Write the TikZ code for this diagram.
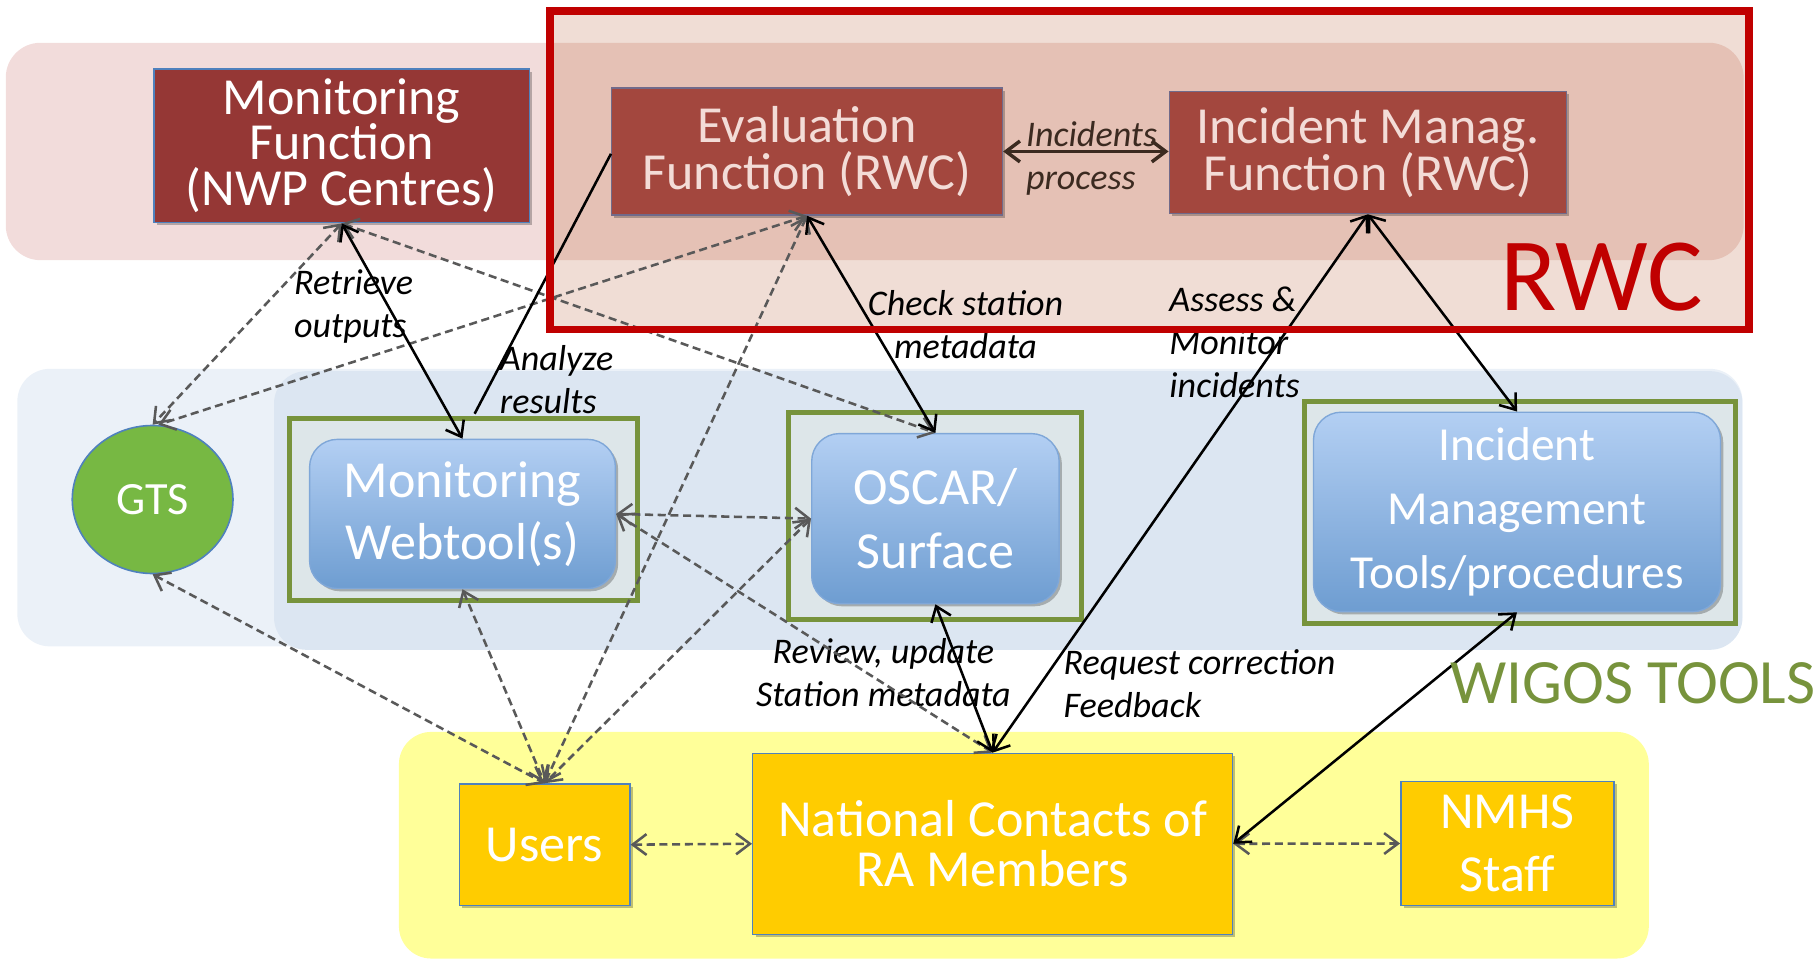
\documentclass[tikz,border=0pt]{standalone}
\usepackage{fontspec}
\setmainfont{Carlito}
\usetikzlibrary{arrows.meta,shadows,calc,shapes.geometric}
\definecolor{pinkband}{HTML}{F2DCDB}
\definecolor{rwcpale}{HTML}{F0DDD5}
\definecolor{rwcover}{HTML}{E5C1B5}
\definecolor{blueouter}{HTML}{EBF1F8}
\definecolor{blueinner}{HTML}{DCE6F2}
\definecolor{yellowband}{HTML}{FFFF99}
\definecolor{contfill}{HTML}{DDE6E9}
\definecolor{olive}{HTML}{77933C}
\definecolor{tooltop}{HTML}{B3CFF3}
\definecolor{toolbot}{HTML}{6E9DD1}
\definecolor{toolborder}{HTML}{7FA7D8}
\definecolor{gtsgreen}{HTML}{77B843}
\definecolor{gold}{HTML}{FFCC00}
\definecolor{mffill}{HTML}{953735}
\definecolor{rwcfill}{HTML}{A3473E}
\definecolor{rwctext}{HTML}{F3DCD7}
\definecolor{dgray}{HTML}{595959}
\definecolor{rwcred}{HTML}{C00000}
\definecolor{boxblue}{HTML}{4F81BD}
\definecolor{labbrown}{HTML}{3B2A20}
\begin{document}
\lineskiplimit=-100pt
\lineskip=0pt
\begin{tikzpicture}[x=0.5pt,y=-0.5pt,
  >={Straight Barb[length=6pt,width=9pt]},
  bigfont/.style={font=\fontsize{22.5pt}{#1}\selectfont},
  shad/.style={drop shadow={shadow xshift=1.2pt,shadow yshift=-1.2pt,opacity=0.25,fill=black}},
  mfbox/.style={draw=boxblue,line width=0.7pt,fill=mffill,text=white,inner sep=0pt,align=center,shad},
  rwcbox/.style={draw=boxblue!60!rwcfill,line width=0.6pt,fill=rwcfill,text=rwctext,inner sep=0pt,align=center,shad},
  cont/.style={draw=olive,line width=2.2pt,fill=contfill,inner sep=0pt},
  tool/.style={draw=toolborder,line width=0.6pt,rounded corners=12pt,top color=tooltop,bottom color=toolbot,text=white,inner sep=0pt,align=center,shad},
  goldbox/.style={draw=boxblue,line width=0.6pt,fill=gold,text=white,inner sep=0pt,align=center,shad},
  lab/.style={font=\fontsize{15.6pt}{18.5pt}\selectfont\itshape,inner sep=0pt},
  sol/.style={draw=black,line width=1.1pt,<->},
  dsh/.style={draw=dgray,line width=1.1pt,dash pattern=on 3.5pt off 2pt,<->}
]
\useasboundingbox (0,0) rectangle (1568,829);
% background bands
\fill[pinkband,rounded corners=15pt] (5,37) rectangle (1508,225);
\fill[blueouter,rounded corners=14pt] (15,319) rectangle (1507,559);
\fill[blueinner,rounded corners=14pt] (237,321) rectangle (1507,562);
\fill[yellowband,rounded corners=14pt] (345,633) rectangle (1426,829);
% RWC area
\fill[rwcpale] (476,9.7) rectangle (1512.5,285);
\begin{scope}
  \clip (476,9.7) rectangle (1512.5,285);
  \fill[rwcover,rounded corners=15pt] (5,37) rectangle (1508,225);
\end{scope}
% nodes
\node[mfbox,bigfont=19.5pt,minimum width=162.5pt,minimum height=66.5pt] (mf) at (295.5,126) {Monitoring\\Function\\(NWP Centres)};
\node[rwcbox,bigfont=20.5pt,minimum width=169pt,minimum height=55pt] (ev) at (698,131) {Evaluation\\Function (RWC)};
\node[rwcbox,bigfont=20.5pt,minimum width=171.75pt,minimum height=52.75pt] (im) at (1183,132) {Incident Manag.\\Function (RWC)};
\node[ellipse,draw=boxblue,line width=0.7pt,fill=gtsgreen,text=white,inner sep=0pt,minimum width=69.5pt,minimum height=64pt,font=\fontsize{20pt}{24pt}\selectfont] (gts) at (132,432) {GTS};
\node[cont,minimum width=150.5pt,minimum height=78.5pt] (wt) at (400.5,440.5) {};
\node[tool,bigfont=27pt,minimum width=132.25pt,minimum height=64.5pt] (wti) at (400,444.5) {Monitoring\\Webtool(s)};
\node[cont,minimum width=126.5pt,minimum height=89.5pt] (os) at (808.5,446.5) {};
\node[tool,bigfont=28pt,minimum width=107pt,minimum height=73.5pt] (osi) at (809,448.5) {OSCAR/\\Surface};
\node[cont,minimum width=186.5pt,minimum height=96pt] (imt) at (1314.5,443.5) {};
\node[tool,font=\fontsize{20.5pt}{27.5pt}\selectfont,minimum width=176pt,minimum height=86.25pt] (imti) at (1312,442.75) {Incident\\Management\\Tools/procedures};
\node[goldbox,bigfont=27pt,minimum width=73.75pt,minimum height=52.5pt] (us) at (471,730.5) {Users};
\node[goldbox,bigfont=21.5pt,minimum width=207.5pt,minimum height=78.25pt] (nc) at (858.5,729.75) {National Contacts of\\RA Members};
\node[goldbox,bigfont=27pt,minimum width=92.25pt,minimum height=53.5pt] (nm) at (1303.75,729.5) {NMHS\\Staff};
% labels
\node[lab,align=left,anchor=west] (lret) at (254,265) {Retrieve\\outputs};
\node[lab,align=left,anchor=west] (lana) at (432,328) {Analyze\\results};
\node[lab,align=center] (lchk) at (835,281) {Check station\\metadata};
\node[lab,align=left,anchor=west] (lass) at (1011,296) {Assess \&\\Monitor\\incidents};
\node[lab,align=left,anchor=west,text=labbrown] (linc) at (887,137) {Incidents\\process};
\node[lab,align=center] (lrev) at (764,581.5) {Review, update\\Station metadata};
\node[lab,align=left,anchor=west] (lreq) at (919.5,591.5) {Request correction\\Feedback};
% dashed connectors
\draw[dsh] (mf.south) -- (gts.north);
\draw[dsh] (ev.south) -- ($(gts.north)+(5,0)$);
\draw[dsh] (mf.south) -- (osi.north);
\draw[dsh] (ev.south) -- (us.north);
\draw[dsh] (wti.south) -- (us.north);
\draw[dsh] (gts.south) -- (us.north);
\draw[dsh] (osi.west) -- (us.north);
\draw[dsh] (wti.east) -- (osi.west);
\draw[dsh] (wti.east) -- (nc.north);
\draw[dsh] (us.east) -- (nc.west);
\draw[dsh] (nc.east) -- (nm.west);
% solid connectors
\draw[sol] (mf.south) -- (wti.north);
\draw[draw=black,line width=1.1pt] ($(ev.west)+(0,2)$) -- ($(wt.north)+(10,-2)$);
\draw[sol] (ev.south) -- (osi.north);
\draw[sol] (im.south) -- (nc.north);
\draw[sol] (im.south) -- (imti.north);
\draw[sol] (osi.south) -- (nc.north);
\draw[sol] (imti.south) -- (nc.east);
\draw[draw=labbrown,line width=1.5pt,<->] (ev.east) -- (ev.east -| im.west);
% RWC frame and titles
\node[draw=rwcred,line width=3.4pt,inner sep=0pt,minimum width=518.25pt,minimum height=137.65pt] (rwc) at (994.25,147.35) {};
\node[anchor=base west,inner sep=0pt,text=rwcred,font=\fontsize{45pt}{50pt}\selectfont] (rwct) at (1297,268.7) {RWC};
\node[anchor=base west,inner sep=0pt,text=olive,font=\fontsize{27.3pt}{30pt}\selectfont] (wigt) at (1254,608) {WIGOS TOOLS};
\end{tikzpicture}
\end{document}
